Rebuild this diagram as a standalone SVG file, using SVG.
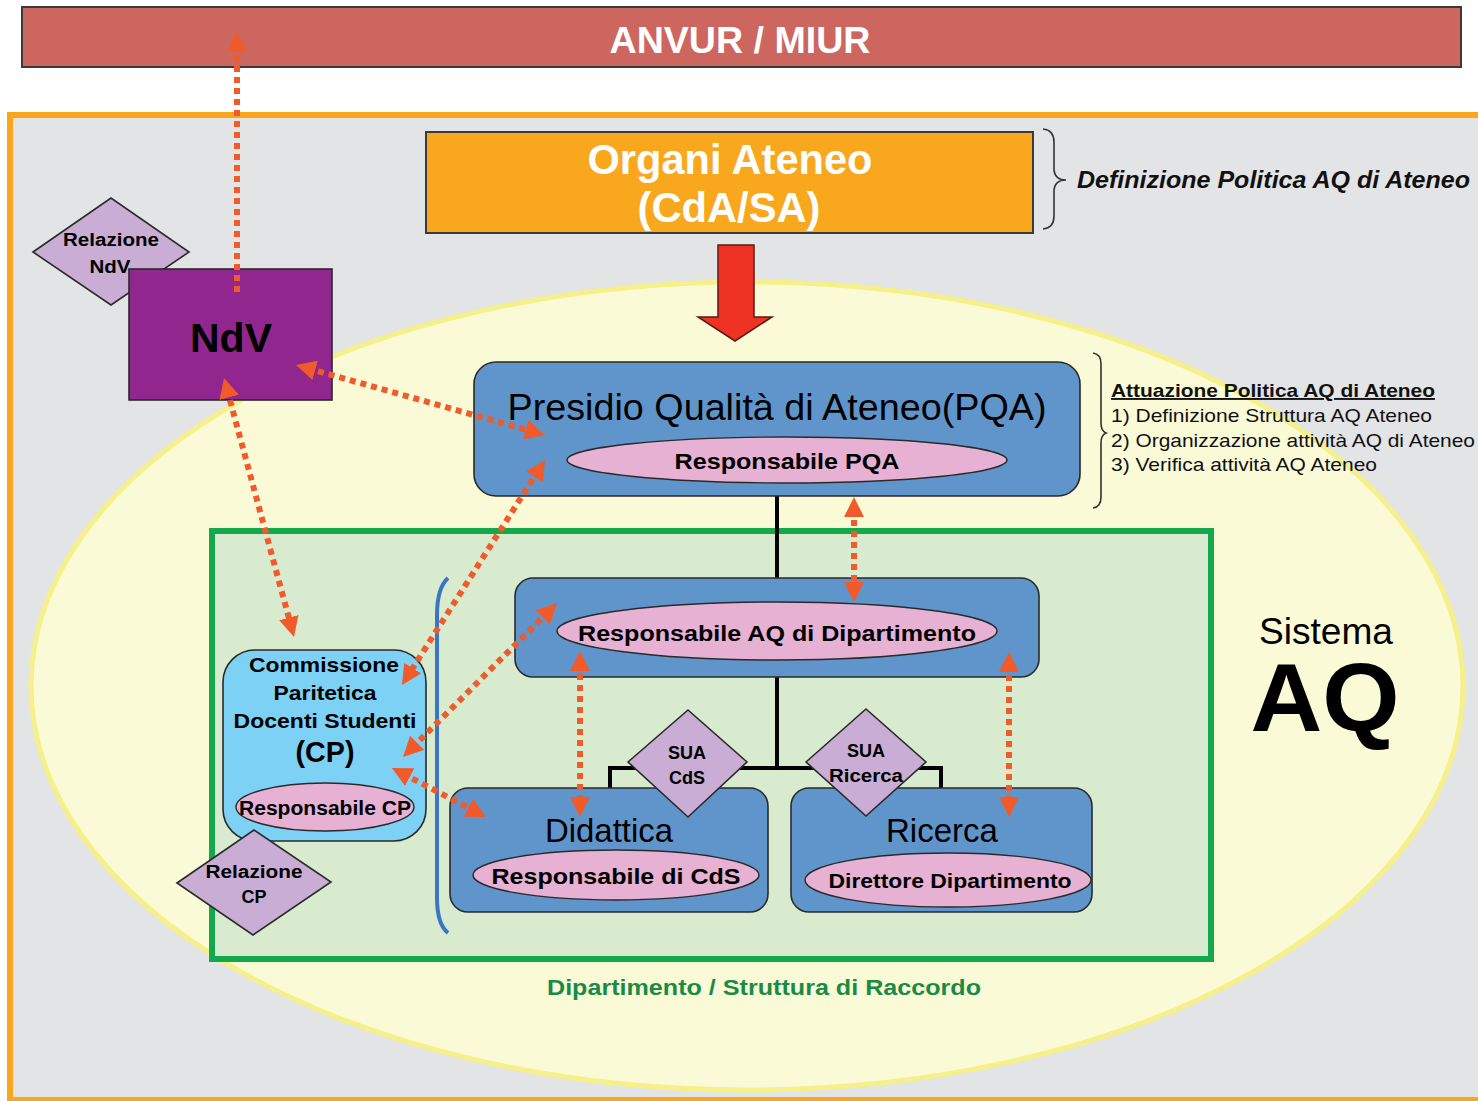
<svg xmlns="http://www.w3.org/2000/svg" width="1478" height="1101" viewBox="0 0 1478 1101">
<style>
text{font-family:"Liberation Sans",Arial,sans-serif;}
.b{font-weight:bold;}
.box{fill:#5F95CB;stroke:#2a2a2a;stroke-width:1.6;}
.ell{fill:#E6B1D2;stroke:#2a2a2a;stroke-width:1.4;}
.dia{fill:#C9ADD4;stroke:#2a2a2a;stroke-width:1.6;}
.flow{fill:none;stroke:#F15A29;stroke-width:6;stroke-dasharray:6 5;marker-start:url(#ah);marker-end:url(#ah);}
.tree{fill:none;stroke:#000;stroke-width:4;}
</style>
<defs>
<marker id="ah" viewBox="0 0 20 20" refX="8" refY="10" markerWidth="20" markerHeight="20" markerUnits="userSpaceOnUse" orient="auto-start-reverse">
<path d="M0,0 L20,10 L0,20 Z" fill="#F15A29"/>
</marker>
</defs>
<rect x="0" y="0" width="1478" height="1101" fill="#ffffff"/>

<g id="anvur">
<rect x="22" y="7" width="1439" height="60" fill="#CE6660" stroke="#3a3a3a" stroke-width="2"/>
<text x="740" y="53" font-size="36" class="b" fill="#ffffff" text-anchor="middle" textLength="261" lengthAdjust="spacingAndGlyphs">ANVUR / MIUR</text>
</g>

<g id="frame">
<rect x="10" y="115" width="1480" height="985" fill="#E3E4E6" stroke="#F9A61C" stroke-width="6"/>
</g>

<g id="sistema-aq">
<ellipse cx="747" cy="686" rx="716" ry="404" fill="#FAFAD7" stroke="#F5F08A" stroke-width="5"/>
<text x="1326" y="644" font-size="36" text-anchor="middle" fill="#000" textLength="134" lengthAdjust="spacingAndGlyphs">Sistema</text>
<text x="1325" y="731" font-size="96" class="b" text-anchor="middle" fill="#000" textLength="149" lengthAdjust="spacingAndGlyphs">AQ</text>
</g>

<g id="dipartimento">
<rect x="212" y="531" width="999" height="428" fill="#D8EBCF" stroke="#13A84B" stroke-width="6"/>
<text x="764" y="995" font-size="22" class="b" fill="#1A8B45" text-anchor="middle" textLength="434" lengthAdjust="spacingAndGlyphs">Dipartimento / Struttura di Raccordo</text>
<path d="M448,578 Q437,588 437,615 L437,898 Q437,924 448,933" fill="none" stroke="#3B76C2" stroke-width="4"/>
</g>

<g id="organi-ateneo">
<rect x="426" y="132" width="607" height="101" fill="#F9A81D" stroke="#3a3a3a" stroke-width="2"/>
<text x="730" y="174" font-size="42" class="b" fill="#ffffff" text-anchor="middle" textLength="285" lengthAdjust="spacingAndGlyphs">Organi Ateneo</text>
<text x="729" y="222" font-size="42" class="b" fill="#ffffff" text-anchor="middle" textLength="183" lengthAdjust="spacingAndGlyphs">(CdA/SA)</text>
</g>

<g id="definizione">
<path d="M1043,129 Q1054,130 1054,142 L1054,170 Q1055,180 1066,180 Q1055,180 1054,190 L1054,216 Q1054,228 1043,229" fill="none" stroke="#333" stroke-width="1.6"/>
<text x="1077" y="188" font-size="23" class="b" font-style="italic" fill="#111" textLength="393" lengthAdjust="spacingAndGlyphs">Definizione Politica AQ di Ateneo</text>
</g>

<g id="red-arrow">
<polygon points="718,245 754,245 754,317 772,317 735,341 698,317 718,317" fill="#EE3224" stroke="#5a1a14" stroke-width="1.5"/>
</g>

<g id="connectors-tree">
<line class="tree" x1="777" y1="496" x2="777" y2="578"/>
<line class="tree" x1="777" y1="677" x2="777" y2="768"/>
<path class="tree" d="M610,790 V768 H941 V790"/>
</g>

<g id="relazione-ndv">
<polygon class="dia" points="33,252 111,198 189,252 111,305"/>
<text x="111" y="246" font-size="18" class="b" text-anchor="middle" textLength="96" lengthAdjust="spacingAndGlyphs">Relazione</text>
</g>

<g id="ndv">
<rect x="129" y="269" width="203" height="131" fill="#91278E" stroke="#2a2a2a" stroke-width="1.6"/>
<text x="231" y="352" font-size="41" class="b" text-anchor="middle" fill="#000">NdV</text>
</g>

<g id="relazione-ndv-label">
<text x="110" y="273" font-size="18" class="b" text-anchor="middle" textLength="41" lengthAdjust="spacingAndGlyphs">NdV</text>
</g>

<g id="pqa">
<rect class="box" x="474" y="362" width="606" height="134" rx="22"/>
<text x="777" y="420" font-size="37" text-anchor="middle" fill="#000" textLength="539" lengthAdjust="spacingAndGlyphs">Presidio Qualità di Ateneo(PQA)</text>
<ellipse class="ell" cx="787" cy="460" rx="220" ry="23"/>
<text x="787" y="469" font-size="22" class="b" text-anchor="middle" textLength="225" lengthAdjust="spacingAndGlyphs">Responsabile PQA</text>
</g>

<g id="attuazione">
<path d="M1093,353 Q1101,354 1101,364 L1101,423 Q1101,431 1106,433 Q1101,435 1101,443 L1101,497 Q1101,507 1093,508" fill="none" stroke="#333" stroke-width="1.6"/>
<text x="1111" y="397" font-size="19" class="b" text-decoration="underline" fill="#111" textLength="324" lengthAdjust="spacingAndGlyphs">Attuazione Politica AQ di Ateneo</text>
<text x="1111" y="422" font-size="19" fill="#111" textLength="321" lengthAdjust="spacingAndGlyphs">1) Definizione Struttura AQ Ateneo</text>
<text x="1111" y="447" font-size="19" fill="#111" textLength="364" lengthAdjust="spacingAndGlyphs">2) Organizzazione attività AQ di Ateneo</text>
<text x="1111" y="471" font-size="19" fill="#111" textLength="266" lengthAdjust="spacingAndGlyphs">3) Verifica attività AQ Ateneo</text>
</g>

<g id="resp-aq-dipartimento">
<rect class="box" x="515" y="578" width="524" height="99" rx="18"/>
<ellipse class="ell" cx="777" cy="631" rx="220" ry="29"/>
<text x="777" y="641" font-size="22" class="b" text-anchor="middle" textLength="398" lengthAdjust="spacingAndGlyphs">Responsabile AQ di Dipartimento</text>
</g>

<g id="didattica">
<rect class="box" x="450" y="788" width="318" height="124" rx="18"/>
<text x="609" y="842" font-size="33" text-anchor="middle" fill="#000" textLength="128" lengthAdjust="spacingAndGlyphs">Didattica</text>
<ellipse class="ell" cx="616" cy="875" rx="143" ry="25"/>
<text x="616" y="884" font-size="22" class="b" text-anchor="middle" textLength="249" lengthAdjust="spacingAndGlyphs">Responsabile di CdS</text>
</g>

<g id="ricerca">
<rect class="box" x="791" y="788" width="301" height="124" rx="18"/>
<text x="942" y="842" font-size="33" text-anchor="middle" fill="#000" textLength="112" lengthAdjust="spacingAndGlyphs">Ricerca</text>
<ellipse class="ell" cx="948" cy="880" rx="143" ry="27"/>
<text x="950" y="888" font-size="21" class="b" text-anchor="middle" textLength="243" lengthAdjust="spacingAndGlyphs">Direttore Dipartimento</text>
</g>

<g id="sua-cds">
<polygon class="dia" points="628,762 688,710 747,762 688,817"/>
<text x="687" y="759" font-size="18" class="b" text-anchor="middle">SUA</text>
<text x="687" y="784" font-size="18" class="b" text-anchor="middle">CdS</text>
</g>

<g id="sua-ricerca">
<polygon class="dia" points="806,762 866,709 926,762 866,816"/>
<text x="866" y="757" font-size="18" class="b" text-anchor="middle">SUA</text>
<text x="866" y="782" font-size="18" class="b" text-anchor="middle" textLength="74" lengthAdjust="spacingAndGlyphs">Ricerca</text>
</g>

<g id="cp">
<rect x="223" y="650" width="203" height="191" rx="32" fill="#7CD1F5" stroke="#2a2a2a" stroke-width="1.6"/>
<text x="324" y="672" font-size="21" class="b" text-anchor="middle" textLength="150" lengthAdjust="spacingAndGlyphs">Commissione</text>
<text x="325" y="700" font-size="21" class="b" text-anchor="middle" textLength="103" lengthAdjust="spacingAndGlyphs">Paritetica</text>
<text x="325" y="728" font-size="21" class="b" text-anchor="middle" textLength="183" lengthAdjust="spacingAndGlyphs">Docenti Studenti</text>
<text x="325" y="762" font-size="29" class="b" text-anchor="middle" textLength="59" lengthAdjust="spacingAndGlyphs">(CP)</text>
<ellipse class="ell" cx="325" cy="807" rx="89" ry="24"/>
<text x="325" y="815" font-size="20" class="b" text-anchor="middle" textLength="172" lengthAdjust="spacingAndGlyphs">Responsabile CP</text>
</g>

<g id="relazione-cp">
<polygon class="dia" points="177,883 254,830 331,882 253,935"/>
<text x="254" y="878" font-size="18" class="b" text-anchor="middle" textLength="97" lengthAdjust="spacingAndGlyphs">Relazione</text>
<text x="254" y="903" font-size="18" class="b" text-anchor="middle">CP</text>
</g>

<g id="connectors-flows">
<path class="flow" d="M237,292 L237,44" style="marker-start:none"/>
<path class="flow" d="M307.5,368.2 L533.5,431.8"/>
<path class="flow" d="M227.1,389.6 L290.9,625.4"/>
<path class="flow" d="M538.6,470.1 L408.4,674.9"/>
<path class="flow" d="M548.5,611.5 L411.5,748.5"/>
<path class="flow" d="M402.6,773.5 L475.4,811.5"/>
<path class="flow" d="M854,509 L854,590"/>
<path class="flow" d="M580,663 L580,805"/>
<path class="flow" d="M1009,664 L1009,805"/>
</g>
</svg>
